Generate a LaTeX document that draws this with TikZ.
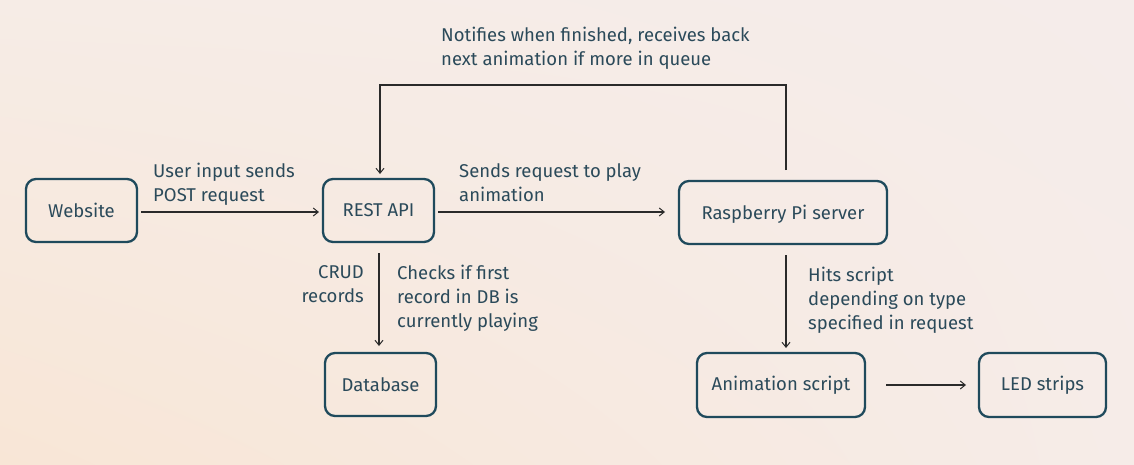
\documentclass[tikz,border=0pt]{standalone}
\usepackage{fontspec}
\setmainfont{Fira Sans}
\usetikzlibrary{arrows.meta,shadings}
\definecolor{boxc}{HTML}{1F4A5C}
\definecolor{txtc}{HTML}{2B4A5A}
\definecolor{linec}{HTML}{2A2A2A}
\definecolor{bgul}{HTML}{F6ECE6}
\definecolor{bgur}{HTML}{F5ECEA}
\definecolor{bgll}{HTML}{F8E6D6}
\definecolor{bglr}{HTML}{F6ECE8}
\begin{document}
\begin{tikzpicture}[x=1pt,y=-1pt,
  every node/.style={font=\fontsize{18.5}{24}\selectfont, text=txtc},
  box/.style={draw=boxc, line width=2.3pt, rounded corners=10pt, inner sep=0pt},
  conn/.style={draw=linec, line width=1.1pt, -{Straight Barb[length=5pt,width=8pt,line width=1pt]}},
  lbl/.style={align=left, anchor=north west, inner sep=0pt},
  lblr/.style={align=right, anchor=north east, inner sep=0pt}]
\shade[upper left=bgul, upper right=bgur, lower left=bgll, lower right=bglr] (0,0) rectangle (1134,464);
\useasboundingbox (0,0) rectangle (1134,464);

\node[box, minimum width=111pt, minimum height=63pt] (web) at (81.5,210.5) {Website};
\node[box, minimum width=111pt, minimum height=63pt] (api) at (378.5,210.5) {REST API};
\node[box, minimum width=208pt, minimum height=63pt, text depth=1pt] (pi) at (783,212.5) {Raspberry Pi server};
\node[box, minimum width=111pt, minimum height=63pt] (db) at (380.5,384.5) {Database};
\node[box, minimum width=168pt, minimum height=64pt] (anim) at (781,385) {Animation script};
\node[box, minimum width=127pt, minimum height=64pt] (led) at (1042.5,385) {LED strips};

\coordinate (webE) at (141,212);
\coordinate (apiW) at (319,212);
\coordinate (apiE) at (438,212);
\coordinate (piW) at (665,212);
\coordinate (piN) at (786,170);
\coordinate (apiN) at (380,174);
\coordinate (apiS) at (379,253);
\coordinate (dbN) at (379,346);
\coordinate (piS) at (786,255);
\coordinate (animN) at (786,348);
\coordinate (animE) at (886,385);
\coordinate (ledW) at (966,385);

\draw[conn] (webE) -- (apiW);
\draw[conn] (apiE) -- (piW);
\draw[conn] (piN) |- (580,85) -| (apiN);
\draw[conn] (apiS) -- (dbN);
\draw[conn] (piS) -- (animN);
\draw[conn] (animE) -- (ledW);

\node[lbl] (l1) at (153,163) {User input sends\\POST request};
\node[lbl] (l2) at (459,163) {Sends request to play\\animation};
\node[lbl] (l3) at (441,27) {Notifies when finished, receives back\\next animation if more in queue};
\node[lblr] (l4) at (364,265) {CRUD\\records};
\node[lbl] (l5) at (397,265) {Checks if first\\record in DB is\\currently playing};
\node[lbl] (l6) at (808,267) {Hits script\\depending on type\\specified in request};
\end{tikzpicture}
\end{document}
